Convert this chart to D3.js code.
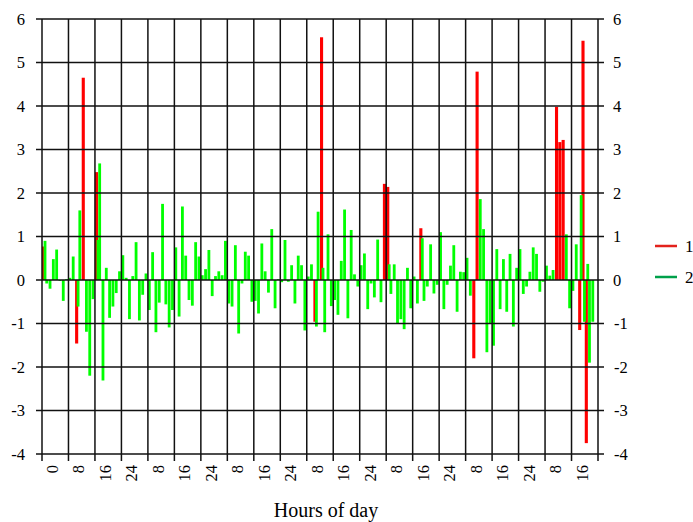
<!DOCTYPE html>
<html>
<head>
<meta charset="utf-8">
<script src="https://cdn.jsdelivr.net/npm/d3@7"></script>
<style>
  body { margin: 0; background: #fff; }
</style>
</head>
<body>
<svg id="chart" width="693" height="522" font-family="'Liberation Serif', 'Times New Roman', serif"></svg>
<script>
// hourly values, 7 days x 24h
var series2 = [
  0.9, -0.08, -0.2, 0.48, 0.7, -0.02, -0.48, 0.02, 0.05, 0.54, -0.61, 1.6,
  0, -1.19, -2.2, -0.44, 0.92, 2.68, -2.31, 0.28, -0.87, -0.61, -0.3, 0.2,
  0.57, 0.05, -0.9, 0.09, 0.87, -0.93, -0.34, 0.15, -0.69, 0.64, -1.2, -0.52,
  1.75, -0.56, -1.09, -0.69, 0.75, -0.84, 1.69, 0.56, -0.46, -0.59, 0.87, 0.54,
  0.11, 0.25, 0.69, -0.37, 0.09, 0.2, 0.11, 0.9, -0.54, -0.61, 0.8, -1.23,
  -0.08, 0.65, 0.56, -0.5, -0.48, -0.77, 0.84, 0.2, -0.29, 1.17, -0.65, 0.02,
  -0.05, 0.92, -0.04, 0.34, -0.54, 0.56, 0.34, -1.16, 0.08, 0.36, -1.07, 1.57,
  0.28, -1.2, 1.05, -0.6, -0.46, -0.8, 0.44, 1.62, -0.88, 1.15, 0.13, -0.15,
  0.34, 0.61, -0.67, -0.08, -0.4, 0.93, -0.51, 0, 0.36, -0.32, 0.36, -1.01,
  -0.9, -1.13, 0.28, -0.65, 0.08, -0.54, 0.96, -0.48, -0.15, 0.82, -0.31, -0.11,
  1.1, -0.67, -0.11, 0.33, 0.8, -0.73, 0.19, 0.18, 0.51, -0.36, 0, 0,
  1.86, 1.17, -1.66, -1.0, -1.51, 0.71, -0.67, 0.48, -0.73, 0.6, -1.07, 0.28,
  0.71, -0.32, -0.15, 0.19, 0.75, 0.6, -0.27, -0.04, 0.33, 0.1, 0.23, 0,
  0, 0, 1.05, -0.65, -0.25, 0.82, 1.95, -0.96, 0.37, -1.9, -0.96, 0
];

// series 1 only has a few hours
var s1Hours = [0, 10, 12, 16, 82, 84, 103, 104, 114, 130, 131, 155, 156, 157, 162, 163, 164];
var s1Values = [0.77, -1.46, 4.65, 2.48, -0.96, 5.58, 2.21, 2.14, 1.19, -1.8, 4.79, 3.98, 3.17, 3.22, -1.15, 5.5, -3.75];

var hourTicks = d3.range(0, 169, 8);
var hourLabels = hourTicks.map(function(h, i) {
  if (i == 0) return "0";
  if (i == hourTicks.length - 1) return "";
  return ["24", "8", "16"][i % 3];
});
var yTicks = [-4, -3, -2, -1, 0, 1, 2, 3, 4, 5, 6];

var svg = d3.select("#chart"),
  margin = {top: 19, right: 95, bottom: 68, left: 42},
  width = 693 - margin.left - margin.right,
  height = 522 - margin.top - margin.bottom;

var x = d3.scaleLinear().domain([0, 168]).range([margin.left, margin.left + width]);
var y = d3.scaleLinear().domain([-4, 6]).range([margin.top + height, margin.top]);

var s1 = s1Hours.map(function(h, i) { return {h: h, v: s1Values[i]}; });
var s2 = series2.map(function(v, h) { return {h: h, v: v}; }).filter(function(d) { return d.v != 0; });

var barW = x(1) - x(0) - 0.2;

// series 1 (red)
svg.append("g").selectAll("rect")
  .data(s1)
  .enter()
  .append("rect")
  .attr("x", function(d) { return x(d.h); })
  .attr("y", function(d) { return y(Math.max(0, d.v)); })
  .attr("width", barW)
  .attr("height", function(d) { return Math.abs(y(d.v) - y(0)); })
  .attr("fill", "#ff0000");

// series 2 (green), nudged when sharing an hour with series 1
svg.append("g").selectAll("rect")
  .data(s2)
  .enter()
  .append("rect")
  .attr("x", function(d) { return x(d.h) + (s1Hours.indexOf(d.h) >= 0 ? 1.6 : 0); })
  .attr("y", function(d) { return y(Math.max(0, d.v)); })
  .attr("width", barW - 0.3)
  .attr("height", function(d) { return Math.abs(y(d.v) - y(0)); })
  .attr("fill", "#00ff00");

// grid
var grid = svg.append("g").attr("stroke", "#111").attr("stroke-width", 1.5);
grid.selectAll("line.h")
  .data(yTicks)
  .enter()
  .append("line")
  .attr("x1", x(0) - 6)
  .attr("x2", x(168) + 6)
  .attr("y1", function(d) { return y(d); })
  .attr("y2", function(d) { return y(d); });
grid.selectAll("line.v")
  .data(hourTicks)
  .enter()
  .append("line")
  .attr("x1", function(d) { return x(d); })
  .attr("x2", function(d) { return x(d); })
  .attr("y1", y(6))
  .attr("y2", y(-4) + 7);

// y labels both sides
svg.append("g").selectAll("text")
  .data(yTicks)
  .enter()
  .append("text")
  .attr("x", 25)
  .attr("y", function(d) { return y(d); })
  .attr("dy", "0.35em")
  .attr("text-anchor", "end")
  .attr("font-size", "16.5px")
  .text(function(d) { return d; });

svg.append("g").selectAll("text")
  .data(yTicks)
  .enter()
  .append("text")
  .attr("x", function(d) { return d < 0 ? 614 : 613; })
  .attr("y", function(d) { return y(d); })
  .attr("dy", "0.35em")
  .attr("font-size", "16.5px")
  .text(function(d) { return d; });

// x labels, rotated
svg.append("g").selectAll("text")
  .data(hourTicks)
  .enter()
  .append("text")
  .attr("transform", function(d) { return "translate(" + (x(d) + 16) + "," + (y(-4) + 11) + ") rotate(-90)"; })
  .attr("text-anchor", "end")
  .attr("font-size", "16.5px")
  .text(function(d, i) { return hourLabels[i]; });

svg.append("text")
  .attr("x", 326)
  .attr("y", 517)
  .attr("text-anchor", "middle")
  .attr("font-size", "20px")
  .text("Hours of day");

// legend
var legend = svg.append("g");
[["1", "#e3221c", 246], ["2", "#00a04a", 277]].forEach(function(item) {
  legend.append("line")
    .attr("x1", 655).attr("x2", 677)
    .attr("y1", item[2]).attr("y2", item[2])
    .attr("stroke", item[1])
    .attr("stroke-width", 2.5);
  legend.append("text")
    .attr("x", 685)
    .attr("y", item[2] + 6)
    .attr("font-size", "17px")
    .text(item[0]);
});
</script>
</body>
</html>
